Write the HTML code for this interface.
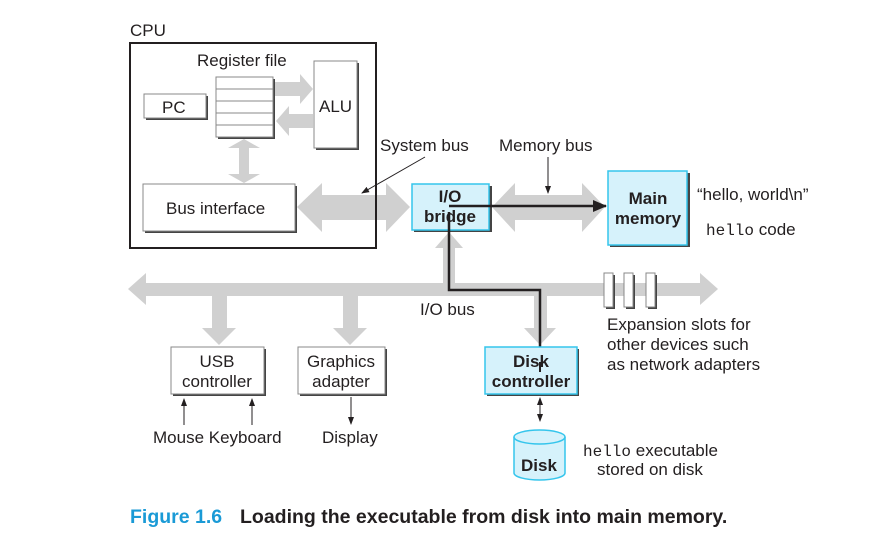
<!DOCTYPE html>
<html><head><meta charset="utf-8"><style>
html,body{margin:0;padding:0;background:#fff}
svg text{font-family:"Liberation Sans",sans-serif;fill:#231f20}
.m{font-family:"Liberation Mono",monospace}
</style></head><body>
<svg width="870" height="550" viewBox="0 0 870 550" xmlns="http://www.w3.org/2000/svg">
<defs>
<marker id="ah" markerWidth="8" markerHeight="8" refX="7" refY="4" orient="auto" markerUnits="userSpaceOnUse"><path d="M0,1 L8,4 L0,7z" fill="#231f20"/></marker>
<marker id="ahs" markerWidth="14" markerHeight="12" refX="13" refY="6" orient="auto" markerUnits="userSpaceOnUse"><path d="M0,0 L14,6 L0,12z" fill="#231f20"/></marker>
</defs>
<g fill="#d0d0d0">
<path d="M275,82 H300 V74 L313,89 L300,104 V96 H275z"/>
<path d="M313,114 H289 V106 L276,121 L289,136 V128 H313z"/>
<path d="M239,148 L228,148 L244,139 L260,148 L249,148 V174 L260,174 L244,183 L228,174 L239,174z"/>
<path d="M297,207 L322,183 V195 H386 V183 L410,207 L386,232 V220 H322 V232z"/>
<path d="M492,207 L515,183 V195 H582 V183 L605,207 L582,232 V220 H515 V232z"/>
<path d="M128,289 L146,273 V283 H700 V273 L718,289 L700,305 V296 H146 V305z"/>
<path d="M443,290 V248 H435 L449,232 L463,248 H455 V290z"/>
<path d="M212,296 H227 V328 H236 L219,345 L202,328 H212z"/>
<path d="M343,296 H358 V328 H367 L350,345 L333,328 H343z"/>
<path d="M534,296 H547 V328 H556 L540,345 L524,328 H534z"/>
</g>
<g font-size="17">
<text x="130" y="36">CPU</text>
<rect x="130" y="43" width="246" height="205" fill="none" stroke="#231f20" stroke-width="2"/>
<text x="197" y="66">Register file</text>
<rect x="218" y="79" width="57" height="60" fill="#444"/>
<rect x="216" y="77" width="57" height="60" fill="#fff" stroke="#888"/>
<g stroke="#888"><line x1="216" y1="89" x2="273" y2="89"/><line x1="216" y1="101" x2="273" y2="101"/><line x1="216" y1="113" x2="273" y2="113"/><line x1="216" y1="125" x2="273" y2="125"/></g>
<rect x="316" y="63" width="43" height="87" fill="#444"/>
<rect x="314" y="61" width="43" height="87" fill="#fff" stroke="#888"/>
<text x="319" y="112">ALU</text>
<rect x="146" y="96" width="62" height="24" fill="#444"/>
<rect x="144" y="94" width="62" height="24" fill="#fff" stroke="#888"/>
<text x="162" y="113">PC</text>
<rect x="145" y="186" width="152" height="47" fill="#444"/>
<rect x="143" y="184" width="152" height="47" fill="#fff" stroke="#888"/>
<text x="166" y="214">Bus interface</text>
<text x="380" y="151">System bus</text>
<line x1="425" y1="157" x2="362" y2="193" stroke="#231f20" marker-end="url(#ah)"/>
<text x="499" y="151">Memory bus</text>
<line x1="548" y1="157" x2="548" y2="193" stroke="#231f20" marker-end="url(#ah)"/>
<rect x="414" y="186" width="78" height="46" fill="#444"/>
<rect x="412" y="184" width="77" height="46" fill="#d6f2fb" stroke="#35c5ec" stroke-width="1.5"/>
<text x="450" y="202" font-weight="bold" text-anchor="middle">I/O</text>
<text x="450" y="222" font-weight="bold" text-anchor="middle">bridge</text>
<rect x="610" y="173" width="80" height="74" fill="#444"/>
<rect x="608" y="171" width="79" height="74" fill="#d6f2fb" stroke="#35c5ec" stroke-width="1.5"/>
<text x="648" y="204" font-weight="bold" text-anchor="middle">Main</text>
<text x="648" y="224" font-weight="bold" text-anchor="middle">memory</text>
<text x="697" y="200">“hello, world\n”</text>
<text x="706" y="235"><tspan class="m" font-size="16">hello</tspan> code</text>
<polyline points="449,206 606,206" fill="none" stroke="#231f20" stroke-width="2.5" marker-end="url(#ahs)"/>
<polyline points="449,212 449,290 540,290 540,372" fill="none" stroke="#231f20" stroke-width="2.5"/>
<text x="420" y="315">I/O bus</text>
<g><rect x="606" y="275" width="9" height="34" fill="#444"/><rect x="604" y="273" width="9" height="34" fill="#fff" stroke="#888"/>
<rect x="626" y="275" width="9" height="34" fill="#444"/><rect x="624" y="273" width="9" height="34" fill="#fff" stroke="#888"/>
<rect x="648" y="275" width="9" height="34" fill="#444"/><rect x="646" y="273" width="9" height="34" fill="#fff" stroke="#888"/></g>
<text x="607" y="330">Expansion slots for</text>
<text x="607" y="350">other devices such</text>
<text x="607" y="370">as network adapters</text>
<rect x="173" y="349" width="93" height="47" fill="#444"/>
<rect x="171" y="347" width="93" height="47" fill="#fff" stroke="#888"/>
<text x="217" y="367" text-anchor="middle">USB</text>
<text x="217" y="387" text-anchor="middle">controller</text>
<rect x="300" y="349" width="87" height="47" fill="#444"/>
<rect x="298" y="347" width="87" height="47" fill="#fff" stroke="#888"/>
<text x="341" y="367" text-anchor="middle">Graphics</text>
<text x="341" y="387" text-anchor="middle">adapter</text>
<rect x="487" y="349" width="92" height="47" fill="#444"/>
<rect x="485" y="347" width="92" height="47" fill="#d6f2fb" stroke="#35c5ec" stroke-width="1.5"/>
<text x="531" y="367" font-weight="bold" text-anchor="middle">Disk</text>
<text x="531" y="387" font-weight="bold" text-anchor="middle">controller</text>
<line x1="540" y1="362" x2="540" y2="372" stroke="#231f20" stroke-width="2"/>
<line x1="184" y1="425" x2="184" y2="399" stroke="#231f20" marker-end="url(#ah)"/>
<line x1="252" y1="425" x2="252" y2="399" stroke="#231f20" marker-end="url(#ah)"/>
<line x1="351" y1="397" x2="351" y2="424" stroke="#231f20" marker-end="url(#ah)"/>
<line x1="540" y1="405" x2="540" y2="421" stroke="#231f20" marker-end="url(#ah)"/>
<line x1="540" y1="412" x2="540" y2="398" stroke="#231f20" marker-end="url(#ah)"/>
<text x="153" y="443">Mouse Keyboard</text>
<text x="322" y="443">Display</text>
<path d="M514,437 V473 A25.5,7 0 0 0 565,473 V437" fill="#d6f2fb" stroke="#35c5ec" stroke-width="1.5"/>
<ellipse cx="539.5" cy="437" rx="25.5" ry="7" fill="#d6f2fb" stroke="#35c5ec" stroke-width="1.5"/>
<text x="539" y="471" font-weight="bold" text-anchor="middle">Disk</text>
<text x="583" y="456"><tspan class="m" font-size="16">hello</tspan> executable</text>
<text x="597" y="475">stored on disk</text>
</g>
<text x="130" y="523" font-size="19.5" font-weight="bold" style="fill:#1a9ad6">Figure 1.6</text>
<text x="240" y="523" font-size="19.5" font-weight="bold">Loading the executable from disk into main memory.</text>
</svg>
</body></html>
